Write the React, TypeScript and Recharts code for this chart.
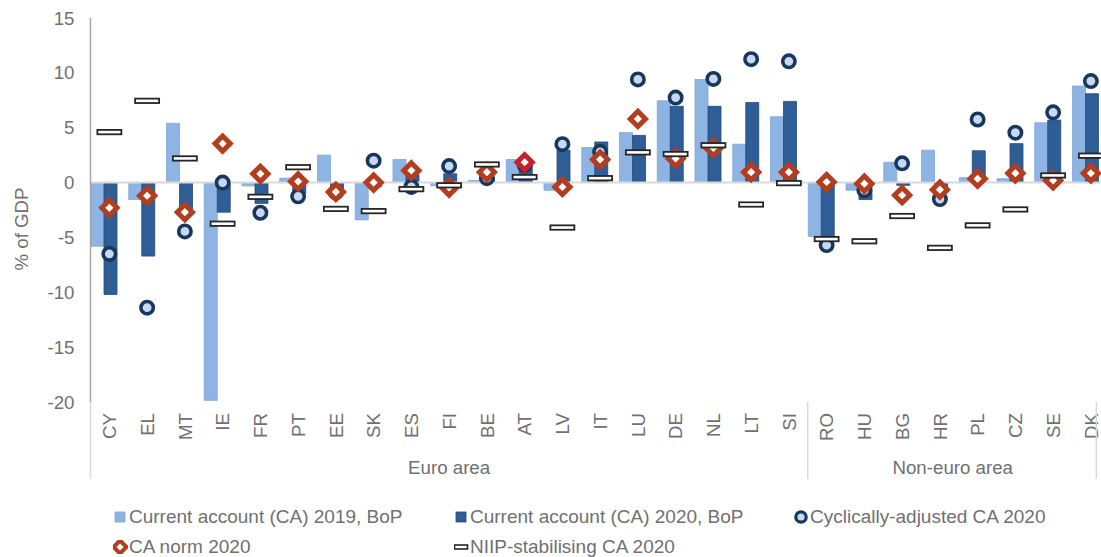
import { Bar, ComposedChart, Line, Rectangle, ReferenceLine, XAxis, YAxis } from "recharts";

const countries = [
  "CY", "EL", "MT", "IE", "FR", "PT", "EE", "SK", "ES", "FI", "BE", "AT", "LV", "IT", "LU", "DE", "NL", "LT", "SI",
  "RO", "HU", "BG", "HR", "PL", "CZ", "SE", "DK",
];
const ca2019 = [-5.8, -1.55, 5.4, -19.85, -0.3, 0.4, 2.5, -3.4, 2.1, -0.3, 0.2, 2.1, -0.7, 3.2, 4.55, 7.45, 9.4, 3.5, 6.0, -4.9, -0.7, 1.85, 2.95, 0.45, 0.35, 5.45, 8.8];
const ca2020 = [-10.2, -6.7, -2.7, -2.7, -1.9, -1.0, -0.6, -0.4, 0.7, 0.8, 0.5, 1.9, 2.95, 3.7, 4.3, 6.95, 6.95, 7.3, 7.4, -5.15, -1.55, -0.25, -0.5, 2.9, 3.55, 5.7, 8.1];
const caAdj = [-6.5, -11.4, -4.45, 0.0, -2.75, -1.25, -0.9, 2.0, -0.4, 1.5, 0.4, 1.6, 3.5, 2.8, 9.4, 7.75, 9.45, 11.25, 11.05, -5.7, -0.7, 1.75, -1.5, 5.75, 4.55, 6.4, 9.25];
const caNorm = [-2.3, -1.2, -2.7, 3.55, 0.8, 0.1, -0.85, 0.0, 1.1, -0.45, 0.95, 1.85, -0.4, 2.1, 5.8, 2.2, 3.15, 0.95, 0.95, 0.05, -0.1, -1.15, -0.65, 0.35, 0.85, 0.2, 0.85];
const niip = [4.6, 7.45, 2.2, -3.75, -1.3, 1.4, -2.4, -2.6, -0.6, -0.25, 1.65, 0.5, -4.1, 0.4, 2.75, 2.6, 3.4, -2.0, -0.05, -5.15, -5.35, -3.05, -5.95, -3.9, -2.45, 0.65, 2.45];
const yTicks = [-20, -15, -10, -5, 0, 5, 10, 15];

const rows = countries.map((name, i) => ({
  name, ca2019: ca2019[i], ca2020: ca2020[i], adj: caAdj[i], norm: caNorm[i], niip: niip[i],
}));

const FONT = "'Liberation Sans', Arial, sans-serif";
const TXT = "#707070";
const FS = 18.7;
const LIGHT = "#8EB4E3";
const DARK = "#2F5E96";
const NAVY = "#17375E";
const RUST = "#B33D1F";
const N = countries.length;
const PLOT_W = 1019.25;
const BAND = PLOT_W / N;
const SHIFT = -5.5; // bars sit left of the marker column in the source

const barShape = (stroke: string) => (p: any) => <Rectangle {...p} x={p.x + SHIFT} stroke={stroke} strokeWidth={0.8} />;

const circleDot = (p: any) =>
  p.cy == null ? <g key={p.index} /> : (
    <circle key={p.index} cx={p.cx} cy={p.cy} r={6.2} fill="#C6D9F1" stroke={NAVY} strokeWidth={3.6} />
  );

const diamondDot = (p: any) => {
  if (p.cy == null) return <g key={p.index} />;
  const d = 7.6;
  const c = p.payload.name === "AT" ? "#C8202A" : RUST;
  return (
    <path key={p.index} d={`M${p.cx},${p.cy - d}L${p.cx + d},${p.cy}L${p.cx},${p.cy + d}L${p.cx - d},${p.cy}Z`}
      fill="#fff" stroke={c} strokeWidth={5} strokeLinejoin="miter" />
  );
};

const niipDot = (p: any) =>
  p.cy == null ? <g key={p.index} /> : (
    <rect key={p.index} x={p.cx - 12} y={p.cy - 2.2} width={24} height={4.4} fill="#fff" stroke="#262626" strokeWidth={1.8} />
  );

function CatTick(props: any) {
  const { x, y, payload, index } = props;
  const ty = y + 11;
  const sep = (sx: number) => <line x1={sx} x2={sx} y1={y} y2={y + 77} stroke="#d9d9d9" strokeWidth={1.5} />;
  return (
    <g>
      <text x={x} y={ty} transform={`rotate(-90 ${x} ${ty})`} textAnchor="end" dy="0.36em"
        fill={TXT} fontSize={FS} fontFamily={FONT}>{payload.value}</text>
      {index === 0 && sep(x - BAND / 2)}
      {index === 19 && sep(x - BAND / 2)}
      {index === N - 1 && sep(x + 5.5)}
      {index === 9 && (
        <text x={x} y={y + 72} textAnchor="middle" fill={TXT} fontSize={FS} fontFamily={FONT}>Euro area</text>
      )}
      {index === 22 && (
        <text x={x + BAND / 2 - 6} y={y + 72} textAnchor="middle" fill={TXT} fontSize={FS} fontFamily={FONT}>Non-euro area</text>
      )}
    </g>
  );
}

const yLabel = (p: any) => {
  const vb = p.viewBox;
  const cx = 21;
  const cy = vb.y + vb.height / 2 + 19;
  return (
    <text x={cx} y={cy} transform={`rotate(-90 ${cx} ${cy})`} textAnchor="middle" dy="0.36em"
      fill={TXT} fontSize={FS} fontFamily={FONT}>% of GDP</text>
  );
};

const legendItems = [
  { label: "Current account (CA) 2019, BoP", icon: <rect x={2} y={2} width={10} height={10} fill={LIGHT} stroke="#7BA6DA" strokeWidth={0.8} /> },
  { label: "Current account (CA) 2020, BoP", icon: <rect x={2} y={2} width={10} height={10} fill={DARK} stroke="#24497A" strokeWidth={0.8} /> },
  { label: "Cyclically-adjusted CA 2020", icon: <circle cx={7} cy={7} r={5.2} fill="#C6D9F1" stroke={NAVY} strokeWidth={3.2} /> },
  { label: "CA norm 2020", icon: <path d="M7,0.5L13.5,7L7,13.5L0.5,7Z" fill="#fff" stroke={RUST} strokeWidth={4} /> },
  { label: "NIIP-stabilising CA 2020", icon: <rect x={0.5} y={5} width={13} height={4} fill="#fff" stroke="#262626" strokeWidth={1.6} /> },
];

function LegendBox() {
  return (
    <div style={{
      position: "absolute", left: 113, top: 503, width: 1000, display: "grid",
      gridTemplateColumns: "341px 340px auto", rowGap: 2, fontFamily: FONT, fontSize: 19, color: TXT,
    }}>
      {legendItems.map((it) => (
        <div key={it.label} style={{ display: "flex", alignItems: "center", height: 28, whiteSpace: "nowrap" }}>
          <svg width={15} height={14} style={{ marginRight: 1 }}>{it.icon}</svg>
          <span>{it.label}</span>
        </div>
      ))}
    </div>
  );
}

export default function App() {
  return (
    <div style={{ position: "fixed", left: 0, top: 0, width: 1101, height: 557, overflow: "hidden", background: "#fff" }}>
      <ComposedChart width={1130} height={490} data={rows} margin={{ top: 18, right: 1130 - 90.5 - PLOT_W, left: 0, bottom: 0 }}
        barGap={0}>
        <XAxis dataKey="name" type="category" interval={0} axisLine={false} tickLine={false} tickSize={0} tickMargin={0}
          height={88} tick={<CatTick />} />
        <YAxis type="number" domain={[-20, 15]} ticks={yTicks} width={90.5} tickLine={false} tickSize={0} tickMargin={16}
          axisLine={{ stroke: "#a6a6a6", strokeWidth: 1.5 }} allowDataOverflow
          tick={{ fill: TXT, fontSize: FS, fontFamily: FONT }} label={yLabel} />
        <Bar dataKey="ca2019" fill={LIGHT} barSize={13} shape={barShape("#7BA6DA")} isAnimationActive={false} />
        <Bar dataKey="ca2020" fill={DARK} barSize={13} shape={barShape("#24497A")} isAnimationActive={false} />
        <ReferenceLine y={0} stroke="#d9d9d9" strokeWidth={2} />
        <Line dataKey="adj" stroke="none" dot={circleDot} activeDot={false} isAnimationActive={false} />
        <Line dataKey="norm" stroke="none" dot={diamondDot} activeDot={false} isAnimationActive={false} />
        <Line dataKey="niip" stroke="none" dot={niipDot} activeDot={false} isAnimationActive={false} />
      </ComposedChart>
      <LegendBox />
    </div>
  );
}
